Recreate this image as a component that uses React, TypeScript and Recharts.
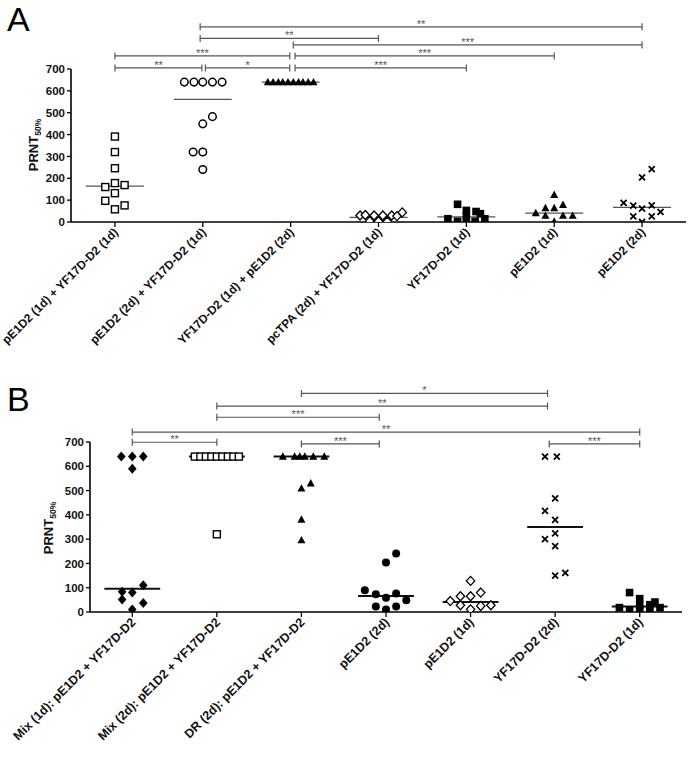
import { ReferenceLine, Scatter, ScatterChart, XAxis, YAxis } from "recharts";

const labelsA = [
  "pE1D2 (1d) + YF17D-D2 (1d)",
  "pE1D2 (2d) + YF17D-D2 (1d)",
  "YF17D-D2 (1d) + pE1D2 (2d)",
  "pcTPA (2d) + YF17D-D2 (1d)",
  "YF17D-D2 (1d)",
  "pE1D2 (1d)",
  "pE1D2 (2d)",
];
const labelsB = [
  "Mix (1d): pE1D2 + YF17D-D2",
  "Mix (2d): pE1D2 + YF17D-D2",
  "DR (2d): pE1D2 + YF17D-D2",
  "pE1D2 (2d)",
  "pE1D2 (1d)",
  "YF17D-D2 (2d)",
  "YF17D-D2 (1d)",
];
const yTicks = [0, 100, 200, 300, 400, 500, 600, 700];
const xTicks = [0, 1, 2, 3, 4, 5, 6];

// panel A - PRNT50% per animal, plus horizontal spread inside each column
const a0 = [391, 320, 246, 178, 160, 169, 132, 97, 76, 58];
const a0Jit = [0, 0, 0, 0, -0.11, 0.11, 0, -0.11, 0.11, 0];
const a1 = [640, 640, 640, 640, 640, 482, 449, 320, 320, 240];
const a1Jit = [-0.21, -0.1, 0, 0.11, 0.22, 0.11, 0, -0.11, 0, 0];
const a2 = [640, 640, 640, 640, 640, 640, 640, 640, 640, 640];
const a2Jit = [-0.26, -0.2, -0.14, -0.09, -0.03, 0.03, 0.09, 0.14, 0.2, 0.26];
const a3 = [30, 32, 4, 30, 3, 30, 2, 30, 27, 44];
const a3Jit = [-0.21, -0.15, -0.1, -0.05, 0, 0.05, 0.1, 0.15, 0.21, 0.27];
const a4 = [81, 53, 48, 15, 3, 28, 3, 38, 15, 0];
const a4Jit = [-0.1, 0, 0.11, -0.21, -0.1, 0, 0.1, 0.16, 0.21, 0];
const a5 = [125, 64, 64, 79, 41, 29, 29, 29, 3];
const a5Jit = [0, -0.1, 0, 0.1, -0.21, -0.1, 0.1, 0.21, 0];
const a6 = [242, 204, 87, 75, 61, 76, 46, 26, 26, 0];
const a6Jit = [0.11, 0, -0.21, -0.1, 0, 0.11, 0.21, -0.1, 0.11, 0];
const mediansA = [164, 561, 640, 21, 23, 41, 67];
const kindsA = ["squareOpen", "circleOpen", "triangle", "diamondOpen", "square", "triangle", "x"];

// panel B
const b0 = [640, 640, 640, 590, 110, 83, 80, 51, 37, 10];
const b0Jit = [-0.13, 0, 0.13, 0, 0.13, -0.12, 0, -0.12, 0.13, 0];
const b1 = [640, 640, 640, 640, 640, 640, 640, 640, 640, 320];
const b1Jit = [-0.26, -0.195, -0.13, -0.065, 0, 0.065, 0.13, 0.195, 0.26, 0];
const b2 = [640, 640, 640, 640, 640, 640, 530, 509, 381, 296];
const b2Jit = [-0.22, -0.08, -0.02, 0.04, 0.14, 0.27, 0.11, 0, 0, 0];
const b3 = [241, 204, 90, 73, 59, 76, 48, 23, 23, 10];
const b3Jit = [0.12, 0, -0.25, -0.12, 0, 0.12, 0.24, -0.12, 0.12, 0];
const b4 = [128, 80, 65, 65, 45, 28, 25, 28, 11];
const b4Jit = [0, 0.12, -0.12, 0, -0.24, -0.12, 0.12, 0.24, 0];
const b5 = [468, 416, 379, 324, 300, 271, 161, 150, 640, 640];
const b5Jit = [0, -0.12, 0, 0, -0.12, 0, 0.12, 0, -0.12, 0.02];
const b6 = [80, 55, 41, 30, 18, 7, 28, 7, 18, 7];
const b6Jit = [-0.12, 0, 0.18, 0.12, -0.24, -0.12, 0, 0.12, 0.24, 0];
const mediansB = [96, 640, 640, 66, 41, 350, 23];
const kindsB = ["diamond", "squareOpen", "triangle", "circle", "diamondOpen", "x", "square"];

// significance brackets: [from, to, height, stars]
const bracketsA: [number, number, number, string][] = [
  [0, 0.99, 705, "**"],
  [1.03, 1.99, 705, "*"],
  [2.05, 4, 705, "***"],
  [0, 1.99, 760, "***"],
  [2.05, 5, 760, "***"],
  [2.03, 6, 810, "***"],
  [0.97, 3, 840, "**"],
  [0.97, 6, 893, "**"],
];
const bracketsB: [number, number, number, string][] = [
  [0, 1, 699, "**"],
  [2, 2.92, 692, "***"],
  [4.93, 6, 692, "***"],
  [0, 6, 741, "**"],
  [1, 2.92, 802, "***"],
  [1, 4.91, 848, "**"],
  [2, 4.91, 900, "*"],
];

const groupsA = [
  [a0, a0Jit], [a1, a1Jit], [a2, a2Jit], [a3, a3Jit], [a4, a4Jit], [a5, a5Jit], [a6, a6Jit],
];
const groupsB = [
  [b0, b0Jit], [b1, b1Jit], [b2, b2Jit], [b3, b3Jit], [b4, b4Jit], [b5, b5Jit], [b6, b6Jit],
];

const FONT = "'Liberation Sans', Arial, sans-serif";

const Marker = ({ cx, cy, kind }: { cx: number; cy: number; kind: string }) => {
  if (cx == null || cy == null) return null;
  switch (kind) {
    case "squareOpen":
      return <rect x={cx - 3.5} y={cy - 3.5} width={7} height={7} fill="#fff" stroke="#000" strokeWidth={1.4} />;
    case "square":
      return <rect x={cx - 3.8} y={cy - 3.8} width={7.6} height={7.6} fill="#000" />;
    case "circleOpen":
      return <circle cx={cx} cy={cy} r={3.8} fill="#fff" stroke="#000" strokeWidth={1.5} />;
    case "circle":
      return <circle cx={cx} cy={cy} r={4} fill="#000" />;
    case "triangle":
      return <polygon points={`${cx},${cy - 4.2} ${cx + 4},${cy + 3.2} ${cx - 4},${cy + 3.2}`} fill="#000" />;
    case "diamondOpen":
      return (
        <polygon
          points={`${cx},${cy - 4.5} ${cx + 4.2},${cy} ${cx},${cy + 4.5} ${cx - 4.2},${cy}`}
          fill="#fff"
          stroke="#000"
          strokeWidth={1.3}
        />
      );
    case "diamond":
      return <polygon points={`${cx},${cy - 5} ${cx + 4.3},${cy} ${cx},${cy + 5} ${cx - 4.3},${cy}`} fill="#000" />;
    default:
      return (
        <path
          d={`M${cx - 3},${cy - 3}L${cx + 3},${cy + 3}M${cx - 3},${cy + 3}L${cx + 3},${cy - 3}`}
          stroke="#000"
          strokeWidth={1.8}
        />
      );
  }
};

const bracketShape = (stars: string) => (p: any) => {
  const { x1, x2, y1 } = p;
  return (
    <g>
      <line x1={x1} x2={x2} y1={y1} y2={y1} stroke="#555" strokeWidth={1.2} />
      <line x1={x1} x2={x1} y1={y1 - 3.5} y2={y1 + 3.5} stroke="#555" strokeWidth={1.2} />
      <line x1={x2} x2={x2} y1={y1 - 3.5} y2={y1 + 3.5} stroke="#555" strokeWidth={1.2} />
      <text x={(x1 + x2) / 2} y={y1 + 1} textAnchor="middle" fontSize={11} fill="#555" fontFamily={FONT}>
        {stars}
      </text>
    </g>
  );
};

const makeTick = (labels: string[], size: number) => (p: any) => {
  const { x, y, payload } = p;
  const tx = x + 4;
  const ty = y + 4;
  return (
    <text
      x={tx}
      y={ty}
      transform={`rotate(-45 ${tx} ${ty})`}
      textAnchor="end"
      fontSize={size}
      fontWeight="bold"
      fontFamily={FONT}
      fill="#111"
    >
      {labels[payload.value]}
    </text>
  );
};

type PanelProps = {
  labels: string[];
  labelSize: number;
  groups: number[][][];
  medians: number[];
  kinds: string[];
  brackets: [number, number, number, string][];
  height: number;
  top: number;
  axisWidth: number;
  right: number;
  xAxisHeight: number;
  medianColor: string;
  medianWidth: number;
};

const Panel = (p: PanelProps) => (
  <ScatterChart
    width={689}
    height={p.height}
    margin={{ top: p.top, right: p.right, bottom: 0, left: 0 }}
  >
    <XAxis
      type="number"
      dataKey="x"
      domain={[-0.5, 6.5]}
      ticks={xTicks}
      interval={0}
      allowDataOverflow
      height={p.xAxisHeight}
      axisLine={{ stroke: "#000", strokeWidth: 1.6 }}
      tickLine={{ stroke: "#000", strokeWidth: 1.3 }}
      tickSize={5}
      tick={makeTick(p.labels, p.labelSize)}
    />
    <YAxis
      type="number"
      dataKey="y"
      domain={[0, 700]}
      ticks={yTicks}
      interval={0}
      allowDataOverflow
      width={p.axisWidth}
      axisLine={{ stroke: "#000", strokeWidth: 1.6 }}
      tickLine={{ stroke: "#000", strokeWidth: 1.3 }}
      tickSize={4}
      tick={{ fontSize: 11.5, fontWeight: "bold", fill: "#111", fontFamily: FONT }}
    />
    {p.groups.map(([vals, jit], i) => (
      <Scatter
        key={i}
        data={vals.map((v, j) => ({ x: i + jit[j], y: v }))}
        isAnimationActive={false}
        shape={(s: any) => <Marker cx={s.cx} cy={s.cy} kind={p.kinds[i]} />}
      />
    ))}
    {p.medians.map((m, i) => (
      <ReferenceLine
        key={`m${i}`}
        segment={[
          { x: i - 0.33, y: m },
          { x: i + 0.33, y: m },
        ]}
        stroke={p.medianColor}
        strokeWidth={p.medianWidth}
        ifOverflow="visible"
      />
    ))}
    {p.brackets.map(([a, b, h, s], i) => (
      <ReferenceLine
        key={`b${i}`}
        segment={[
          { x: a, y: h },
          { x: b, y: h },
        ]}
        ifOverflow="visible"
        shape={bracketShape(s)}
      />
    ))}
  </ScatterChart>
);

const YLabel = ({ x, y }: { x: number; y: number }) => (
  <text
    x={x}
    y={y}
    transform={`rotate(-90 ${x} ${y})`}
    textAnchor="middle"
    fontFamily={FONT}
    fontWeight="bold"
    fill="#111"
  >
    <tspan fontSize={13}>PRNT</tspan>
    <tspan fontSize={8.5} dy={3}>
      50%
    </tspan>
  </text>
);

export default function App() {
  return (
    <div style={{ position: "absolute", left: 0, top: 0, width: 689, height: 759, background: "#fff" }}>
      <div style={{ position: "absolute", left: 0, top: 0 }}>
        <Panel
          labels={labelsA}
          labelSize={12}
          groups={groupsA}
          medians={mediansA}
          kinds={kindsA}
          brackets={bracketsA}
          height={370}
          top={69}
          axisWidth={71}
          right={3}
          xAxisHeight={148}
          medianColor="#555"
          medianWidth={1.3}
        />
      </div>
      <div style={{ position: "absolute", left: 0, top: 375 }}>
        <Panel
          labels={labelsB}
          labelSize={12.5}
          groups={groupsB}
          medians={mediansB}
          kinds={kindsB}
          brackets={bracketsB}
          height={384}
          top={67}
          axisWidth={90}
          right={7}
          xAxisHeight={147}
          medianColor="#111"
          medianWidth={2}
        />
      </div>
      <svg
        width={689}
        height={759}
        style={{ position: "absolute", left: 0, top: 0, pointerEvents: "none" }}
      >
        <text x={7} y={31} fontSize={34} fontFamily={FONT} fill="#000">
          A
        </text>
        <text x={7} y={411} fontSize={34} fontFamily={FONT} fill="#000">
          B
        </text>
        <YLabel x={38} y={145} />
        <YLabel x={53} y={528} />
      </svg>
    </div>
  );
}
